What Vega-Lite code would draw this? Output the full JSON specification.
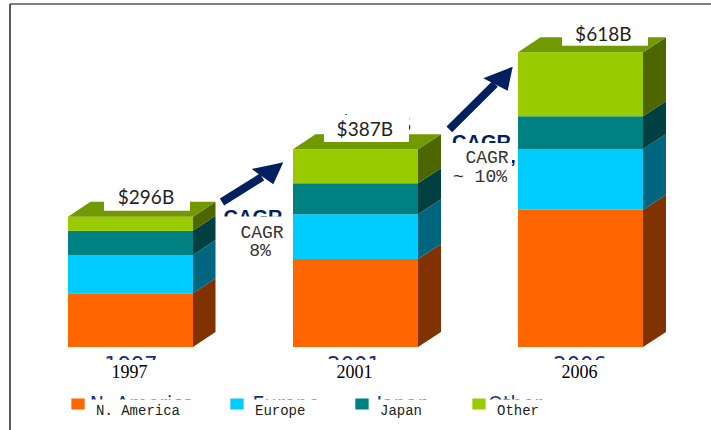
{
"$schema":"https://vega.github.io/schema/vega-lite/v6.json",
"width":711,"height":347,
"autosize":{"type":"none"},
"padding":{"left":0,"top":0,"right":0,"bottom":83},
"background":"white",
"config":{"view":{"stroke":null}},
"datasets":{
"bars":[
{"year":"1997","region":"N. America","rank":1,"value":53.7},
{"year":"1997","region":"Europe","rank":2,"value":38.3},
{"year":"1997","region":"Japan","rank":3,"value":24.3},
{"year":"1997","region":"Other","rank":4,"value":14},
{"year":"2001","region":"N. America","rank":1,"value":88},
{"year":"2001","region":"Europe","rank":2,"value":44.7},
{"year":"2001","region":"Japan","rank":3,"value":31},
{"year":"2001","region":"Other","rank":4,"value":34},
{"year":"2006","region":"N. America","rank":1,"value":137.3},
{"year":"2006","region":"Europe","rank":2,"value":60.7},
{"year":"2006","region":"Japan","rank":3,"value":32.7},
{"year":"2006","region":"Other","rank":4,"value":64}
],
"faces":[
{"id":"a1","face":"N. America","x":193,"y":53.7,"y2":0},{"id":"a1","face":"N. America","x":215.5,"y":68.7,"y2":15},
{"id":"a2","face":"Europe","x":193,"y":92,"y2":53.7},{"id":"a2","face":"Europe","x":215.5,"y":107,"y2":68.7},
{"id":"a3","face":"Japan","x":193,"y":116.3,"y2":92},{"id":"a3","face":"Japan","x":215.5,"y":131.3,"y2":107},
{"id":"a4","face":"Other","x":193,"y":130.3,"y2":116.3},{"id":"a4","face":"Other","x":215.5,"y":145.3,"y2":131.3},
{"id":"a5","face":"Top","x":68,"y":130.3,"y2":130.3},{"id":"a5","face":"Top","x":90.5,"y":145.3,"y2":130.3},{"id":"a5","face":"Top","x":193,"y":145.3,"y2":130.3},{"id":"a5","face":"Top","x":215.5,"y":145.3,"y2":145.3},
{"id":"b1","face":"N. America","x":418,"y":88,"y2":0},{"id":"b1","face":"N. America","x":441,"y":103,"y2":15},
{"id":"b2","face":"Europe","x":418,"y":132.7,"y2":88},{"id":"b2","face":"Europe","x":441,"y":147.7,"y2":103},
{"id":"b3","face":"Japan","x":418,"y":163.7,"y2":132.7},{"id":"b3","face":"Japan","x":441,"y":178.7,"y2":147.7},
{"id":"b4","face":"Other","x":418,"y":197.7,"y2":163.7},{"id":"b4","face":"Other","x":441,"y":212.7,"y2":178.7},
{"id":"b5","face":"Top","x":293,"y":197.7,"y2":197.7},{"id":"b5","face":"Top","x":315.5,"y":212.7,"y2":197.7},{"id":"b5","face":"Top","x":418,"y":212.7,"y2":197.7},{"id":"b5","face":"Top","x":441,"y":212.7,"y2":212.7},
{"id":"c1","face":"N. America","x":643,"y":137.3,"y2":0},{"id":"c1","face":"N. America","x":666,"y":152.3,"y2":15},
{"id":"c2","face":"Europe","x":643,"y":198,"y2":137.3},{"id":"c2","face":"Europe","x":666,"y":213,"y2":152.3},
{"id":"c3","face":"Japan","x":643,"y":230.7,"y2":198},{"id":"c3","face":"Japan","x":666,"y":245.7,"y2":213},
{"id":"c4","face":"Other","x":643,"y":294.7,"y2":230.7},{"id":"c4","face":"Other","x":666,"y":309.7,"y2":245.7},
{"id":"c5","face":"Top","x":518,"y":294.7,"y2":294.7},{"id":"c5","face":"Top","x":540.5,"y":309.7,"y2":294.7},{"id":"c5","face":"Top","x":643,"y":309.7,"y2":294.7},{"id":"c5","face":"Top","x":666,"y":309.7,"y2":309.7}
],
"shafts":[
{"id":"s1","x":222,"y":145},{"id":"s1","x":262,"y":170},
{"id":"s2","x":449.3,"y":217.7},{"id":"s2","x":495,"y":263}
],
"heads":[
{"id":"t1","x":251.7,"y":178,"y2":178},{"id":"t1","x":273.3,"y":182.6,"y2":162.7},{"id":"t1","x":283.3,"y":184.7,"y2":184.7},
{"id":"t2","x":483.3,"y":268.7,"y2":268.7},{"id":"t2","x":507.7,"y":278.3,"y2":256.3},{"id":"t2","x":512.7,"y":280.3,"y2":280.3}
],
"navyYears":[
{"label":"1997","x":131,"y":-24.5},{"label":"2001","x":354,"y":-24.5},{"label":"2006","x":580,"y":-24.5}
],
"navyLegend":[
{"label":"N. America","x":142,"y":-63},{"label":"Europe","x":286,"y":-63},{"label":"Japan","x":403,"y":-63},{"label":"Other","x":515,"y":-63}
],
"navyCagr":[
{"label":"CAGR","x":253,"y":122.6},{"label":"CAGR","x":481.5,"y":197.6},{"label":",","x":513,"y":184}
],
"navyTotals":[
{"label":"$296B","x":151,"y":143.9},{"label":"$387B","x":375,"y":215},{"label":"$618B","x":609,"y":309.9}
],
"whites":[
{"x":104,"x2":190,"y":162,"y2":136.3},{"x":324,"x2":409,"y":232,"y2":205},{"x":562,"x2":648,"y":328.7,"y2":301.3},
{"x":222,"x2":291,"y":130.5,"y2":85},{"x":450,"x2":512,"y":204,"y2":161},
{"x":90,"x2":170,"y":-13,"y2":-43},{"x":315,"x2":395,"y":-13,"y2":-43},{"x":540,"x2":620,"y":-13,"y2":-43},
{"x":86,"x2":560,"y":-52.5,"y2":-83}
],
"totals":[
{"label":"$296B","x":146,"y":142.7},{"label":"$387B","x":364.8,"y":211},{"label":"$618B","x":603.3,"y":306.3}
],
"cagr":[
{"label":"CAGR","x":262,"y":109.3},{"label":"8%","x":260,"y":91},{"label":"CAGR","x":487,"y":184.3},{"label":"~ 10%","x":480,"y":165.3}
],
"frameH":[{"x":10,"x2":711,"y":343}],
"frameV":[{"x":10,"y":343,"y2":-83}]
},
"resolve":{"scale":{"x":"independent"}},
"layer":[
{"data":{"name":"bars"},"mark":{"type":"bar"},
 "encoding":{
  "x":{"field":"year","type":"nominal","sort":null,"title":null,"scale":{"paddingInner":0.4444,"paddingOuter":0.3022},
   "axis":{"domain":false,"ticks":false,"labelAngle":0,"labelFont":"Liberation Serif","labelFontSize":18,"labelColor":"#000000","labelPadding":16,"labelOffset":-1,"zindex":1}},
  "y":{"field":"value","type":"quantitative","stack":"zero","scale":{"domain":[0,347],"nice":false},"axis":null},
  "order":{"field":"rank","type":"quantitative"},
  "color":{"field":"region","type":"nominal","title":null,
   "scale":{"domain":["N. America","Europe","Japan","Other"],"range":["#ff6600","#00ccff","#008080","#99cc00"]},
   "legend":{"orient":"none","direction":"horizontal","legendX":71,"legendY":397,"padding":0,"columnPadding":49,"labelOffset":11,"labelFont":"Liberation Mono","labelFontSize":14,"labelColor":"#222222","labelBaseline":"top","symbolType":"M-1,-0.83H1V0.83H-1Z","symbolSize":177,"symbolStrokeWidth":0,"symbolOpacity":1,"values":["N. America","Europe","Japan","Other"]}}
 }},
{"data":{"name":"faces"},"mark":{"type":"area","opacity":1},
 "encoding":{
  "x":{"field":"x","type":"quantitative","scale":{"domain":[0,711],"nice":false,"zero":false},"axis":null},
  "y":{"field":"y","type":"quantitative","stack":null,"axis":null},
  "y2":{"field":"y2"},
  "detail":{"field":"id"},
  "fill":{"field":"face","type":"nominal","legend":null,"scale":{"domain":["N. America","Europe","Japan","Other","Top"],"range":["#803300","#006680","#004040","#4d6600","#739900"]}}
 }},
{"data":{"name":"shafts"},"mark":{"type":"line","color":"#002060","strokeWidth":8,"strokeCap":"butt"},
 "encoding":{
  "x":{"field":"x","type":"quantitative","scale":{"domain":[0,711],"nice":false,"zero":false},"axis":null},
  "y":{"field":"y","type":"quantitative","axis":null},
  "detail":{"field":"id"}
 }},
{"data":{"name":"heads"},"mark":{"type":"area","color":"#002060","opacity":1},
 "encoding":{
  "x":{"field":"x","type":"quantitative","scale":{"domain":[0,711],"nice":false,"zero":false},"axis":null},
  "y":{"field":"y","type":"quantitative","stack":null,"axis":null},
  "y2":{"field":"y2"},
  "detail":{"field":"id"}
 }},
{"data":{"name":"navyYears"},"mark":{"type":"text","font":"DejaVu Sans","fontSize":21,"color":"#1a2f7f","align":"center","baseline":"alphabetic"},
 "encoding":{"x":{"field":"x","type":"quantitative","scale":{"domain":[0,711],"nice":false,"zero":false},"axis":null},"y":{"field":"y","type":"quantitative","axis":null},"text":{"field":"label"}}},
{"data":{"name":"navyLegend"},"mark":{"type":"text","font":"DejaVu Sans","fontSize":19,"color":"#1a2f7f","align":"center","baseline":"alphabetic"},
 "encoding":{"x":{"field":"x","type":"quantitative","scale":{"domain":[0,711],"nice":false,"zero":false},"axis":null},"y":{"field":"y","type":"quantitative","axis":null},"text":{"field":"label"}}},
{"data":{"name":"navyCagr"},"mark":{"type":"text","font":"Liberation Sans","fontWeight":"bold","fontSize":20,"color":"#002060","align":"center","baseline":"alphabetic"},
 "encoding":{"x":{"field":"x","type":"quantitative","scale":{"domain":[0,711],"nice":false,"zero":false},"axis":null},"y":{"field":"y","type":"quantitative","axis":null},"text":{"field":"label"}}},
{"data":{"name":"navyTotals"},"mark":{"type":"text","font":"Liberation Sans","fontWeight":"bold","fontSize":24.5,"color":"#002060","align":"center","baseline":"alphabetic"},
 "encoding":{"x":{"field":"x","type":"quantitative","scale":{"domain":[0,711],"nice":false,"zero":false},"axis":null},"y":{"field":"y","type":"quantitative","axis":null},"text":{"field":"label"}}},
{"data":{"name":"whites"},"mark":{"type":"rect","color":"#ffffff","opacity":1},
 "encoding":{"x":{"field":"x","type":"quantitative","scale":{"domain":[0,711],"nice":false,"zero":false},"axis":null},"x2":{"field":"x2"},"y":{"field":"y","type":"quantitative","axis":null},"y2":{"field":"y2"}}},
{"data":{"name":"totals"},"mark":{"type":"text","font":"Lato","fontSize":19,"color":"#222222","align":"center","baseline":"alphabetic"},
 "encoding":{"x":{"field":"x","type":"quantitative","scale":{"domain":[0,711],"nice":false,"zero":false},"axis":null},"y":{"field":"y","type":"quantitative","axis":null},"text":{"field":"label"}}},
{"data":{"name":"cagr"},"mark":{"type":"text","font":"Liberation Mono","fontSize":18,"color":"#333333","align":"center","baseline":"alphabetic"},
 "encoding":{"x":{"field":"x","type":"quantitative","scale":{"domain":[0,711],"nice":false,"zero":false},"axis":null},"y":{"field":"y","type":"quantitative","axis":null},"text":{"field":"label"}}},
{"data":{"name":"frameH"},"mark":{"type":"rule","color":"#555555","strokeWidth":1.5},
 "encoding":{"x":{"field":"x","type":"quantitative","scale":{"domain":[0,711],"nice":false,"zero":false},"axis":null},"x2":{"field":"x2"},"y":{"field":"y","type":"quantitative","axis":null}}},
{"data":{"name":"frameV"},"mark":{"type":"rule","color":"#222222","strokeWidth":1.5},
 "encoding":{"x":{"field":"x","type":"quantitative","scale":{"domain":[0,711],"nice":false,"zero":false},"axis":null},"y":{"field":"y","type":"quantitative","axis":null},"y2":{"field":"y2"}}}
]
}
